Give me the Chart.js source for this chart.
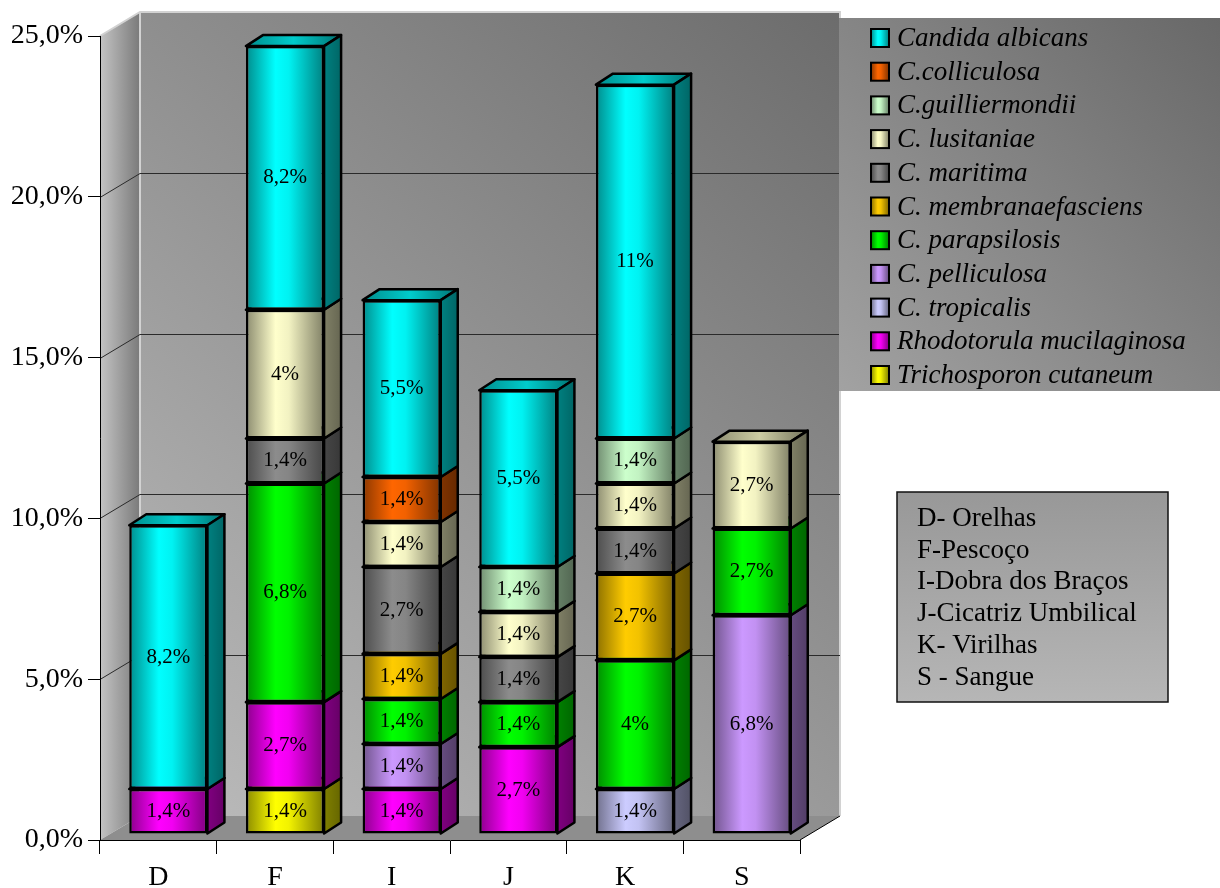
<!DOCTYPE html>
<html>
<head>
<meta charset="utf-8">
<script src="https://cdn.jsdelivr.net/npm/chart.js@4.4.1/dist/chart.umd.min.js"></script>
<style>
  body { margin: 0; background: #fff; }
  #wrap { width: 1220px; height: 888px; }
</style>
</head>
<body>
<div id="wrap"><canvas id="chart" width="1220" height="888"></canvas></div>
<script>
const sites = ['D', 'F', 'I', 'J', 'K', 'S'];
const siteNames = ['D- Orelhas', 'F-Pescoço', 'I-Dobra dos Braços', 'J-Cicatriz Umbilical', 'K- Virilhas', 'S - Sangue'];

// legend order (top to bottom)
const species = ['Candida albicans', 'C.colliculosa', 'C.guilliermondii', 'C. lusitaniae', 'C. maritima',
    'C. membranaefasciens', 'C. parapsilosis', 'C. pelliculosa', 'C. tropicalis',
    'Rhodotorula mucilaginosa', 'Trichosporon cutaneum'];
const speciesColors = ['#00FFFF', '#FF6600', '#CCFFCC', '#FFFFCC', '#8C8C8C',
    '#FFCC00', '#00FF00', '#CC99FF', '#CCCCFF', '#FF00FF', '#FFFF00'];

// % per site: D, F, I, J, K, S
const albicans          = [8.2, 8.2, 5.5, 5.5, 11, null];
const colliculosa       = [null, null, 1.4, null, null, null];
const guilliermondii    = [null, null, null, 1.4, 1.4, null];
const lusitaniae        = [null, 4, 1.4, 1.4, 1.4, 2.7];
const maritima          = [null, 1.4, 2.7, 1.4, 1.4, null];
const membranaefasciens = [null, null, 1.4, null, 2.7, null];
const parapsilosis      = [null, 6.8, 1.4, 1.4, 4, 2.7];
const pelliculosa       = [null, null, 1.4, null, null, 6.8];
const tropicalis        = [null, null, null, null, 1.4, null];
const rhodotorula       = [1.4, 2.7, 1.4, 2.7, null, null];
const trichosporon      = [null, 1.4, null, null, null, null];

const seriesValues = [albicans, colliculosa, guilliermondii, lusitaniae, maritima,
    membranaefasciens, parapsilosis, pelliculosa, tropicalis, rhodotorula, trichosporon];

const SERIF = "'Liberation Serif', 'Times New Roman', serif";
const DX = 40, DY = 24;          // depth of the walls
const BX = 17, BY = 11;          // depth of the bars
const SHIFT_X = 10, SHIFT_Y = -6; // bars sit a bit inside the box
const BAR_PCT = 0.67;

function shade(hex, f) {
    const n = parseInt(hex.slice(1), 16);
    const r = Math.round(((n >> 16) & 255) * f);
    const g = Math.round(((n >> 8) & 255) * f);
    const b = Math.round((n & 255) * f);
    return `rgb(${r},${g},${b})`;
}

function frontGradient(ctx, left, right, hex) {
    if (!Number.isFinite(left) || !Number.isFinite(right)) return hex;
    const g = ctx.createLinearGradient(left, 0, right, 0);
    g.addColorStop(0, shade(hex, 0.55));
    g.addColorStop(0.38, shade(hex, 1));
    g.addColorStop(0.55, shade(hex, 0.95));
    g.addColorStop(1, shade(hex, 0.5));
    return g;
}

function poly(ctx, pts, fill) {
    ctx.beginPath();
    ctx.moveTo(pts[0][0], pts[0][1]);
    for (let i = 1; i < pts.length; i++) ctx.lineTo(pts[i][0], pts[i][1]);
    ctx.closePath();
    ctx.fillStyle = fill;
    ctx.fill();
    ctx.stroke();
}

function fmt(v) {
    return (Number.isInteger(v) ? String(v) : v.toFixed(1).replace('.', ',')) + '%';
}

// walls, floor and grid lines behind the bars
const walls = {
    id: 'walls',
    beforeDraw(chart) {
        const { ctx, chartArea: a } = chart;
        const ys = chart.scales.y;
        ctx.save();

        let g = ctx.createLinearGradient(a.left + DX, a.bottom - DY, a.right + DX, a.top - DY);
        g.addColorStop(0, '#bcbcbc');
        g.addColorStop(1, '#6c6c6c');
        ctx.fillStyle = g;
        ctx.fillRect(a.left + DX, a.top - DY, a.width, a.height);

        g = ctx.createLinearGradient(a.left, 0, a.left + DX, 0);
        g.addColorStop(0, '#c4c4c4');
        g.addColorStop(1, '#7a7a7a');
        ctx.fillStyle = g;
        ctx.beginPath();
        ctx.moveTo(a.left, a.top);
        ctx.lineTo(a.left + DX, a.top - DY);
        ctx.lineTo(a.left + DX, a.bottom - DY);
        ctx.lineTo(a.left, a.bottom);
        ctx.closePath();
        ctx.fill();

        ctx.fillStyle = '#8e8e8e';
        ctx.beginPath();
        ctx.moveTo(a.left, a.bottom);
        ctx.lineTo(a.left + DX, a.bottom - DY);
        ctx.lineTo(a.right + DX, a.bottom - DY);
        ctx.lineTo(a.right, a.bottom);
        ctx.closePath();
        ctx.fill();

        // light edges
        ctx.strokeStyle = '#d2d2d2';
        ctx.lineWidth = 2;
        ctx.beginPath();
        ctx.moveTo(a.left, a.top);
        ctx.lineTo(a.left + DX, a.top - DY);
        ctx.lineTo(a.right + DX, a.top - DY);
        ctx.lineTo(a.right + DX, a.bottom - DY);
        ctx.moveTo(a.left + DX, a.top - DY);
        ctx.lineTo(a.left + DX, a.bottom - DY);
        ctx.stroke();

        // floor outline
        ctx.strokeStyle = '#000';
        ctx.lineWidth = 1;
        ctx.beginPath();
        ctx.moveTo(a.right, a.bottom);
        ctx.lineTo(a.right + DX, a.bottom - DY);
        ctx.stroke();

        ctx.strokeStyle = '#2a2a2a';
        ctx.beginPath();
        ys.ticks.forEach(t => {
            if (t.value === ys.min || t.value === ys.max) return;
            const py = Math.round(ys.getPixelForValue(t.value)) + 0.5;
            ctx.moveTo(a.left, py);
            ctx.lineTo(a.left + DX, py - DY);
            ctx.lineTo(a.right + DX, py - DY);
        });
        ctx.stroke();
        ctx.restore();
    }
};

// side and top faces of the bars, plus value labels
const bars3d = {
    id: 'bars3d',
    beforeDatasetsDraw(chart) {
        const ctx = chart.ctx;
        ctx.save();
        ctx.translate(SHIFT_X, SHIFT_Y);
        ctx.save();
        ctx.strokeStyle = '#000';
        ctx.lineWidth = 2.5;
        ctx.lineJoin = 'round';
        chart.data.datasets.forEach((ds, i) => {
            const meta = chart.getDatasetMeta(i);
            meta.data.forEach((bar, j) => {
                if (ds.data[j] == null) return;
                const { x, y, base, width } = bar.getProps(['x', 'y', 'base', 'width'], true);
                if (![x, y, base, width].every(Number.isFinite)) return;
                const l = x - width / 2, r = x + width / 2;
                const tg = ctx.createLinearGradient(l, 0, r + BX, 0);
                tg.addColorStop(0, shade(ds.baseColor, 0.55));
                tg.addColorStop(0.5, shade(ds.baseColor, 0.8));
                tg.addColorStop(1, shade(ds.baseColor, 0.45));
                poly(ctx, [[l, y], [l + BX, y - BY], [r + BX, y - BY], [r, y]], tg);
                const sg = ctx.createLinearGradient(r, 0, r + BX, 0);
                sg.addColorStop(0, shade(ds.baseColor, 0.5));
                sg.addColorStop(1, shade(ds.baseColor, 0.4));
                poly(ctx, [[r, y], [r + BX, y - BY], [r + BX, base - BY], [r, base]], sg);
            });
        });
        ctx.restore();
    },
    afterDatasetsDraw(chart) {
        const ctx = chart.ctx;
        ctx.fillStyle = '#000';
        ctx.font = `21px ${SERIF}`;
        ctx.textAlign = 'center';
        ctx.textBaseline = 'middle';
        chart.data.datasets.forEach((ds, i) => {
            const meta = chart.getDatasetMeta(i);
            meta.data.forEach((bar, j) => {
                const v = ds.data[j];
                if (v == null) return;
                const { x, y, base } = bar.getProps(['x', 'y', 'base'], true);
                ctx.fillText(fmt(v), x, (y + base) / 2);
            });
        });
        ctx.restore();
    }
};

// legend box and the site key box
const boxes = {
    id: 'boxes',
    afterDraw(chart) {
        const ctx = chart.ctx;
        ctx.save();
        // legend
        const lx = 839, ly = 18, lw = 1220 - 839, lh = 391 - 18;
        let g = ctx.createLinearGradient(lx, ly + lh, lx + lw, ly);
        g.addColorStop(0, '#a2a2a2');
        g.addColorStop(1, '#686868');
        ctx.fillStyle = g;
        ctx.fillRect(lx, ly, lw, lh);

        const items = chart.data.datasets.slice().reverse();
        ctx.font = `italic 27px ${SERIF}`;
        ctx.textBaseline = 'middle';
        ctx.textAlign = 'left';
        items.forEach((ds, k) => {
            const cy = 38 + k * 33.7;
            ctx.fillStyle = frontGradient(ctx, 871, 889, ds.baseColor);
            ctx.fillRect(871, cy - 9, 18, 18);
            ctx.strokeStyle = '#000';
            ctx.lineWidth = 2;
            ctx.strokeRect(871, cy - 9, 18, 18);
            ctx.fillStyle = '#000';
            ctx.fillText(ds.label, 897, cy + 1);
        });

        // site key
        const bx = 897, by = 492, bw = 1168 - 897, bh = 702 - 492;
        g = ctx.createLinearGradient(0, by, 0, by + bh);
        g.addColorStop(0, '#989898');
        g.addColorStop(1, '#b6b6b6');
        ctx.fillStyle = g;
        ctx.fillRect(bx, by, bw, bh);
        ctx.strokeStyle = '#111';
        ctx.lineWidth = 1.5;
        ctx.strokeRect(bx, by, bw, bh);
        ctx.fillStyle = '#000';
        ctx.font = `27px ${SERIF}`;
        siteNames.forEach((s, k) => {
            ctx.fillText(s, 917, 519 + k * 31.7);
        });
        ctx.restore();
    }
};

const ctx = document.getElementById('chart').getContext('2d');

const datasets = [];
for (let i = species.length - 1; i >= 0; i--) {
    const color = speciesColors[i];
    datasets.push({
        label: species[i],
        data: seriesValues[i],
        baseColor: color,
        backgroundColor: (c) => {
            const xs = c.chart.scales.x;
            if (!xs || c.dataIndex === undefined) return color;
            const cx = xs.getPixelForValue(c.dataIndex);
            const half = xs.width / sites.length * BAR_PCT / 2;
            return frontGradient(c.chart.ctx, cx - half, cx + half, color);
        },
        borderColor: '#000',
        borderWidth: 2.5,
        borderSkipped: false,
        barPercentage: BAR_PCT,
        categoryPercentage: 1
    });
}

new Chart(ctx, {
    type: 'bar',
    data: { labels: sites, datasets: datasets },
    options: {
        responsive: false,
        animation: false,
        layout: { padding: { top: 36, right: 420, bottom: 0, left: 0 } },
        plugins: {
            legend: { display: false },
            tooltip: { enabled: false }
        },
        scales: {
            x: {
                stacked: true,
                afterFit: s => { s.height = 48; },
                grid: { drawOnChartArea: false, tickLength: 14, tickColor: '#000' },
                border: { color: '#000', width: 1 },
                ticks: { color: '#000', font: { family: SERIF, size: 28 }, padding: 7 }
            },
            y: {
                stacked: true,
                min: 0,
                max: 25,
                afterFit: s => { s.width = 100; },
                grid: { drawOnChartArea: false, tickLength: 12, tickColor: '#000' },
                border: { color: '#000', width: 1 },
                ticks: {
                    stepSize: 5,
                    color: '#000',
                    padding: 5,
                    font: { family: SERIF, size: 28 },
                    callback: v => v.toFixed(1).replace('.', ',') + '%'
                }
            }
        }
    },
    plugins: [walls, bars3d, boxes]
});
</script>
</body>
</html>
